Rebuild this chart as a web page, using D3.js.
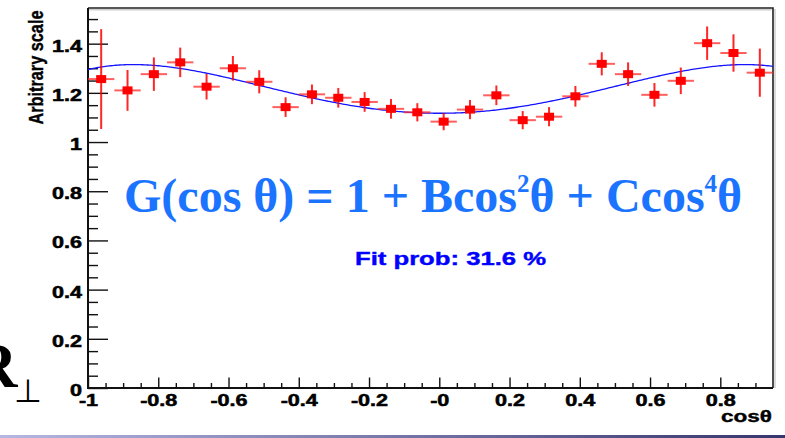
<!DOCTYPE html>
<html>
<head>
<meta charset="utf-8">
<script src="https://cdn.jsdelivr.net/npm/d3@7"></script>
<style>
  body { margin: 0; background: #fff; }
  svg { display: block; }
</style>
</head>
<body>
<div class="viz"></div>
<script>
// bin centres in cos(theta), bin width 0.075
const cosTheta = [-0.9625, -0.8875, -0.8125, -0.7375, -0.6625, -0.5875, -0.5125, -0.4375, -0.3625, -0.2875, -0.2125, -0.1375, -0.0625, 0.0125, 0.0875, 0.1625, 0.2375, 0.3125, 0.3875, 0.4625, 0.5375, 0.6125, 0.6875, 0.7625, 0.8375, 0.9125];
const values = [1.256, 1.210, 1.276, 1.324, 1.225, 1.300, 1.245, 1.142, 1.194, 1.180, 1.163, 1.135, 1.121, 1.083, 1.132, 1.190, 1.089, 1.103, 1.186, 1.318, 1.276, 1.192, 1.249, 1.402, 1.362, 1.282];
const errors = [0.203, 0.083, 0.068, 0.060, 0.052, 0.050, 0.047, 0.040, 0.040, 0.040, 0.040, 0.040, 0.037, 0.035, 0.039, 0.040, 0.037, 0.039, 0.042, 0.047, 0.048, 0.048, 0.054, 0.068, 0.076, 0.098];
const binHalfWidth = 0.0375;
// fit G(cos) = norm * (1 + B cos^2 + C cos^4)
const fitNorm = 1.117;
const fitB = 0.468;
const fitC = -0.309;

const xTicks = [-1, -0.8, -0.6, -0.4, -0.2, 0, 0.2, 0.4, 0.6, 0.8];
const xTickLabels = ['-1', '-0.8', '-0.6', '-0.4', '-0.2', '-0', '0.2', '0.4', '0.6', '0.8'];
const yTicks = [0, 0.2, 0.4, 0.6, 0.8, 1, 1.2, 1.4];
const yTickLabels = ['0', '0.2', '0.4', '0.6', '0.8', '1', '1.2', '1.4'];

const width = 785;
const height = 438;
const margin = { top: 8, right: 12, bottom: 50, left: 88 };
const labelFont = '"Liberation Sans", Arial, sans-serif';
const stretch = 1.35; // tick labels are drawn wide in the original

const svg = d3.select('.viz')
  .append('svg')
  .attr('width', width)
  .attr('height', height);

const xScale = d3.scaleLinear()
  .domain([-1, 0.95])
  .range([margin.left, width - margin.right]);

const yScale = d3.scaleLinear()
  .domain([0, 1.545])
  .range([height - margin.bottom, margin.top]);

// bottom slide bar
const defs = svg.append('defs');
const grad = defs.append('linearGradient').attr('id', 'bar');
grad.append('stop').attr('offset', 0).attr('stop-color', '#b6b6e2');
grad.append('stop').attr('offset', 1).attr('stop-color', '#36366e');
svg.append('rect')
  .attr('x', 0).attr('y', 435)
  .attr('width', width).attr('height', 3)
  .attr('fill', 'url(#bar)');

// frame shadow + frame
const x0 = xScale.range()[0], x1 = xScale.range()[1];
const y0 = yScale.range()[0], y1 = yScale.range()[1];
svg.append('path')
  .attr('d', `M${x0} ${y1 + 1.8}H${x1 - 1.5}M${x1 + 2} ${y1 + 1}V${y0}`)
  .attr('stroke', '#cfcfcf').attr('stroke-width', 1.5).attr('fill', 'none');
svg.append('path')
  .attr('d', `M${x0} ${y1}H${x1}V${y0}`)
  .attr('stroke', '#222').attr('stroke-width', 1.6).attr('fill', 'none');

// minor ticks
const xMinor = d3.range(-20, 20).map(i => i * 0.05).filter(v => v > -1 && v < 0.95 && Math.abs(Math.round(v * 5) - v * 5) > 1e-6);
const yMinor = d3.range(0, 31).map(i => i * 0.05).filter(v => Math.abs(Math.round(v * 5) - v * 5) > 1e-6);

svg.append('g')
  .attr('transform', `translate(0 ${y0})`)
  .call(d3.axisBottom(xScale).tickValues(xMinor).tickSize(-5).tickFormat(''))
  .call(g => g.select('.domain').remove())
  .selectAll('line').attr('stroke', '#111').attr('stroke-width', 1.4);

svg.append('g')
  .attr('transform', `translate(${x0} 0)`)
  .call(d3.axisLeft(yScale).tickValues(yMinor).tickSize(-10).tickFormat(''))
  .call(g => g.select('.domain').remove())
  .selectAll('line').attr('stroke', '#111').attr('stroke-width', 1.4);

// major ticks with labels
const xAxis = svg.append('g')
  .attr('transform', `translate(0 ${y0})`)
  .call(d3.axisBottom(xScale).tickValues(xTicks).tickSize(-10.5).tickFormat((d, i) => xTickLabels[i]));
xAxis.select('.domain').remove();
xAxis.selectAll('line').attr('stroke', '#111').attr('stroke-width', 1.4);
xAxis.selectAll('text')
  .attr('y', 18).attr('dy', 0)
  .attr('transform', `scale(${stretch} 1)`)
  .attr('font-family', labelFont).attr('font-weight', 'bold')
  .attr('font-size', 16).attr('fill', '#000')
  .attr('stroke', '#000').attr('stroke-width', 0.5);

const yAxis = svg.append('g')
  .attr('transform', `translate(${x0} 0)`)
  .call(d3.axisLeft(yScale).tickValues(yTicks).tickSize(-20).tickFormat((d, i) => yTickLabels[i]));
yAxis.select('.domain').remove();
yAxis.selectAll('line').attr('stroke', '#111').attr('stroke-width', 1.4);
yAxis.selectAll('text')
  .attr('x', -6 / stretch).attr('dy', 0).attr('y', 7.5)
  .attr('transform', `scale(${stretch} 1)`)
  .attr('font-family', labelFont).attr('font-weight', 'bold')
  .attr('font-size', 16).attr('fill', '#000')
  .attr('stroke', '#000').attr('stroke-width', 0.5);

// axis lines
svg.append('path')
  .attr('d', `M${x0} ${y1}V${y0}H${x1}`)
  .attr('stroke', '#111').attr('stroke-width', 2).attr('fill', 'none');

// fit curve
const fit = c => fitNorm * (1 + fitB * c * c + fitC * c * c * c * c);
const curveX = d3.range(0, 391).map(i => -1 + i * 0.005);
svg.append('path')
  .attr('d', d3.line().x(c => xScale(c)).y(c => yScale(fit(c)))(curveX))
  .attr('fill', 'none')
  .attr('stroke', '#1414ff')
  .attr('stroke-width', 1.3);

// data points with error bars
const points = svg.append('g')
  .selectAll('g')
  .data(cosTheta.map((c, i) => ({ c, v: values[i], e: errors[i] })))
  .join('g');

points.append('line')
  .attr('x1', d => xScale(d.c - binHalfWidth))
  .attr('x2', d => xScale(d.c + binHalfWidth))
  .attr('y1', d => yScale(d.v))
  .attr('y2', d => yScale(d.v))
  .attr('stroke', '#ff2a2a').attr('stroke-opacity', 0.75).attr('stroke-width', 2);

points.append('line')
  .attr('x1', d => xScale(d.c))
  .attr('x2', d => xScale(d.c))
  .attr('y1', d => yScale(d.v - d.e))
  .attr('y2', d => yScale(d.v + d.e))
  .attr('stroke', '#ff0000').attr('stroke-opacity', 0.85).attr('stroke-width', 2);

points.append('rect')
  .attr('x', d => xScale(d.c) - 5)
  .attr('y', d => yScale(d.v) - 4)
  .attr('width', 10)
  .attr('height', 8)
  .attr('fill', '#ff0000');

// axis titles
svg.append('text')
  .attr('transform', 'translate(42.5 67.5) rotate(-90)')
  .attr('text-anchor', 'middle')
  .attr('font-family', labelFont).attr('font-weight', 'bold')
  .attr('font-size', 20)
  .attr('stroke', '#000').attr('stroke-width', 0.4)
  .attr('textLength', 114).attr('lengthAdjust', 'spacingAndGlyphs')
  .text('Arbitrary scale');

svg.append('text')
  .attr('x', 772).attr('y', 421.5)
  .attr('text-anchor', 'end')
  .attr('font-family', labelFont).attr('font-weight', 'bold')
  .attr('font-size', 17)
  .attr('stroke', '#000').attr('stroke-width', 0.4)
  .attr('textLength', 51).attr('lengthAdjust', 'spacingAndGlyphs')
  .text('cosθ');

// formula
const formula = svg.append('text')
  .attr('x', 124).attr('y', 212)
  .attr('font-family', '"Liberation Serif", "Times New Roman", serif')
  .attr('font-weight', 'bold')
  .attr('font-size', 48)
  .attr('fill', '#1b74ff');
formula.append('tspan').text('G(cos θ) = 1 + Bcos');
formula.append('tspan').attr('font-size', 25).attr('dy', -20).text('2');
formula.append('tspan').attr('dy', 20).text('θ + Ccos');
formula.append('tspan').attr('font-size', 25).attr('dy', -20).text('4');
formula.append('tspan').attr('dy', 20).text('θ');

svg.append('text')
  .attr('x', 355).attr('y', 265)
  .attr('font-family', labelFont).attr('font-weight', 'bold')
  .attr('font-size', 19)
  .attr('stroke', '#0000ff').attr('stroke-width', 0.4)
  .attr('textLength', 191).attr('lengthAdjust', 'spacingAndGlyphs')
  .attr('fill', '#0000ff')
  .text('Fit prob: 31.6 %');

// slide text peeking in at the left edge
svg.append('text')
  .attr('x', -28).attr('y', 387)
  .attr('font-family', '"Liberation Serif", "Times New Roman", serif')
  .attr('font-weight', 'bold')
  .attr('font-size', 63)
  .text('R');
svg.append('text')
  .attr('x', 14).attr('y', 402)
  .attr('font-family', '"DejaVu Sans", sans-serif')
  .attr('font-size', 32)
  .text('⊥');
</script>
</body>
</html>
